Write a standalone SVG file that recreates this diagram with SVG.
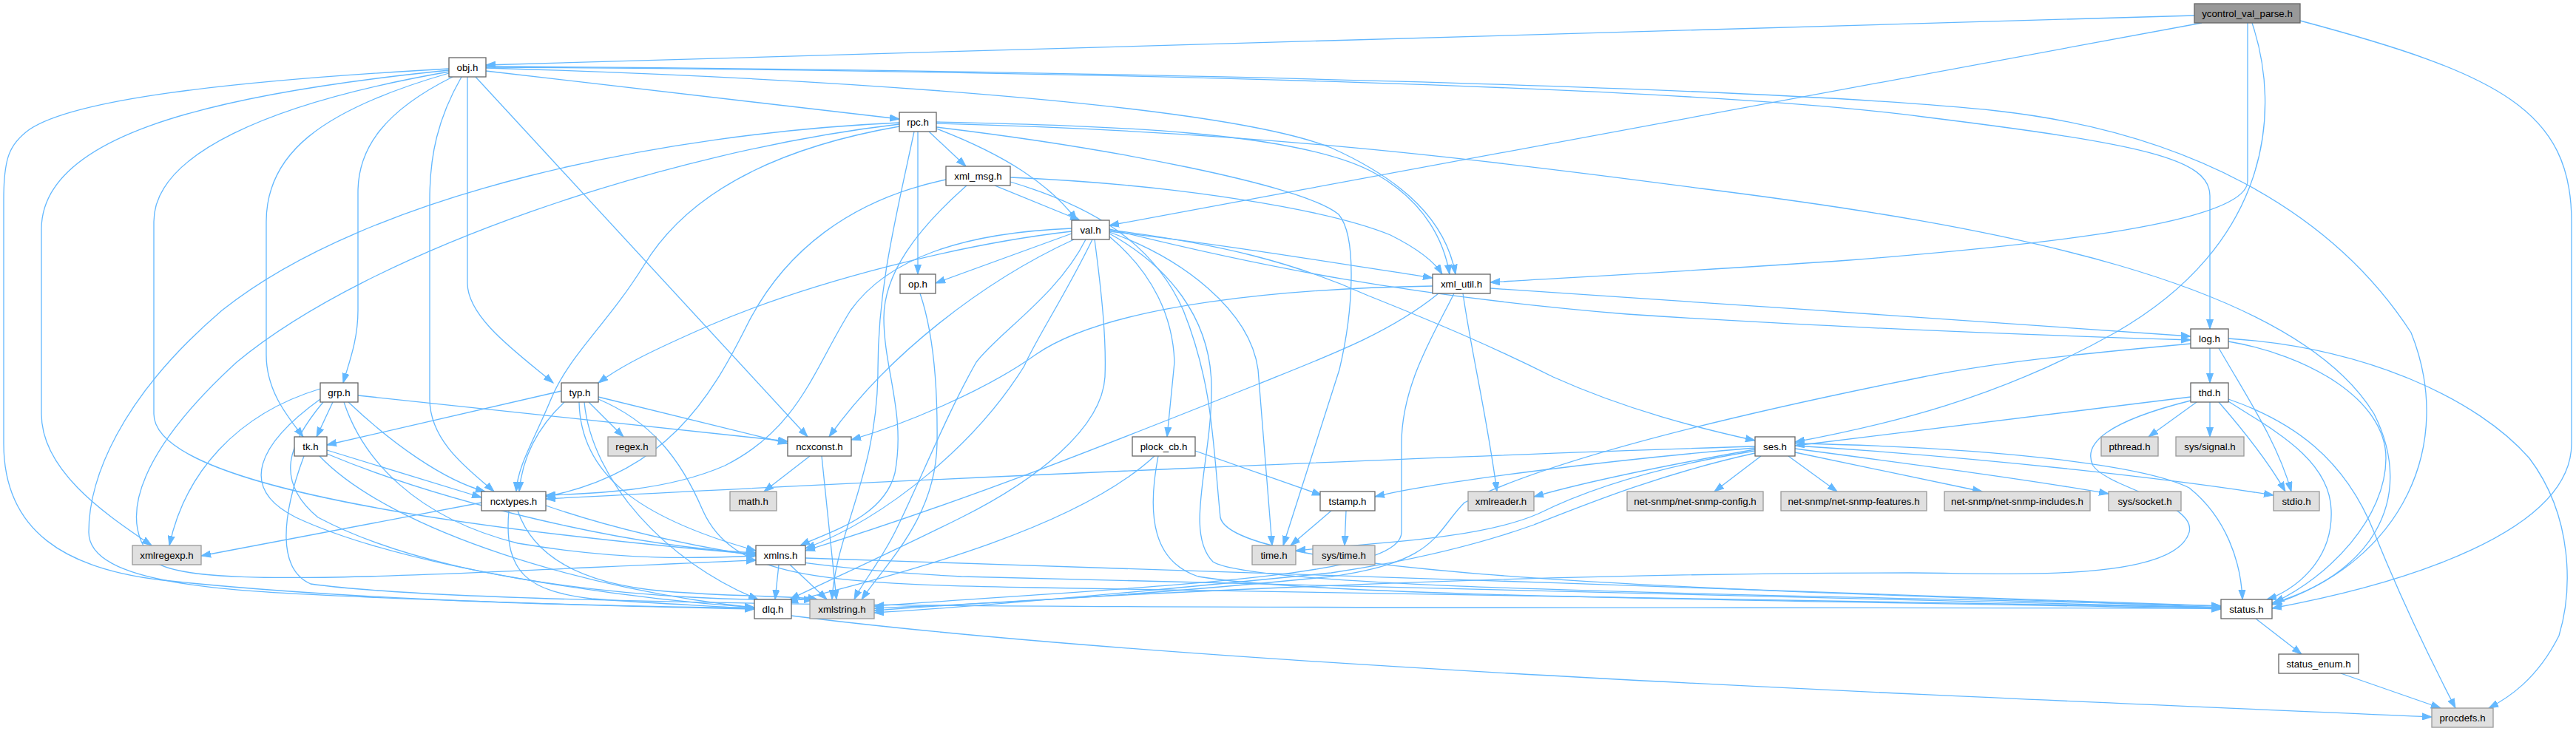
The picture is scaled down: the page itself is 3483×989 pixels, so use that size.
<svg xmlns="http://www.w3.org/2000/svg" width="3483" height="989" viewBox="0 0 3483 989">
<style>
.n rect{fill:#ffffff;stroke:#666666;stroke-width:1.3}
.x rect{fill:#e0e0e0;stroke:#999999;stroke-width:1.3}
.r rect{fill:#999999;stroke:#666666;stroke-width:1.3}
text{font-family:"Liberation Sans",Arial,Helvetica,sans-serif;font-size:13.3px;text-anchor:middle;fill:#000000}
#edges path{fill:none;stroke:#63b8ff;stroke-width:1.3;marker-end:url(#a)}
</style>
<defs>
<marker id="a" markerWidth="14" markerHeight="10" refX="13" refY="5" orient="auto" markerUnits="userSpaceOnUse">
<path d="M0,0.5 L13,5 L0,9.5 z" fill="#63b8ff" stroke="#63b8ff" stroke-width="1"/>
</marker>
</defs>
<rect width="3483" height="989" fill="#ffffff"/>
<g id="edges">
<path d="M2967,21 L657,88"/>
<path d="M2977,31 L1500,305"/>
<path d="M3039,31 L3039,245 C3039,300 2780,330 2500,352 C2300,366 2150,374 2015,382"/>
<path d="M3045,31 C3085,150 3070,330 2860,450 C2700,540 2550,575 2427,598"/>
<path d="M3110,28 C3380,100 3477,150 3477,300 L3477,600 C3477,720 3250,790 3072,823"/>
<path d="M657,96 L1216,161"/>
<path d="M657,92 C1100,105 1650,140 1800,200 C1900,245 1955,300 1968,371"/>
<path d="M657,91 C1500,96 2300,118 2600,158 C2900,195 2988,215 2988,265 L2988,445"/>
<path d="M657,90 C1500,95 2400,118 2700,150 C2950,178 3150,280 3260,450 C3320,600 3250,760 3072,818"/>
<path d="M607,93 C300,110 100,135 40,175 C12,195 5,215 5,270 L5,600 C5,720 90,770 220,785 C500,815 850,820 1020,824"/>
<path d="M607,95 C260,130 56,190 56,310 L56,560 C56,640 150,700 205,738"/>
<path d="M607,97 C360,140 208,210 208,300 L208,560 C208,650 560,710 1022,750"/>
<path d="M607,99 C430,150 360,210 360,300 L360,480 C360,530 390,565 410,591"/>
<path d="M612,104 C520,150 484,200 484,260 L484,420 C484,460 472,490 464,518"/>
<path d="M624,104 C592,160 581,210 581,270 L581,540 C581,600 640,640 668,665"/>
<path d="M632,104 L632,383 C632,430 700,478 748,518"/>
<path d="M643,104 L1092,591"/>
<path d="M1256,178 L1306,225"/>
<path d="M1266,174 C1360,210 1420,250 1456,298"/>
<path d="M1241,178 L1241,371"/>
<path d="M1266,165 C1500,170 1760,178 1860,235 C1930,275 1953,330 1960,371"/>
<path d="M1266,167 C1700,178 2000,215 2300,255 C2700,305 3100,380 3210,560 C3270,680 3200,780 3072,816"/>
<path d="M1266,172 C1500,200 1760,250 1810,290 C1835,320 1830,420 1811,500 L1735,738"/>
<path d="M1216,171 C1050,200 930,260 870,360 C820,440 770,480 745,540 C720,600 700,630 698,665"/>
<path d="M1216,166 C900,180 500,260 300,420 C160,540 120,650 120,720 C120,790 300,800 500,808 C800,820 950,822 1020,822"/>
<path d="M1216,168 C900,205 500,340 320,490 C200,600 150,700 210,760 C260,800 600,775 1022,758"/>
<path d="M1236,178 C1210,300 1187,390 1187,500 C1187,640 1130,720 1125,811"/>
<path d="M1345,251 L1460,298"/>
<path d="M1366,240 C1600,250 1800,285 1880,318 C1920,338 1940,355 1950,371"/>
<path d="M1279,243 C1150,270 1060,340 1010,440 C960,540 900,640 738,672"/>
<path d="M1307,251 C1240,310 1195,370 1195,430 C1195,500 1225,560 1210,640 C1195,700 1120,720 1082,738"/>
<path d="M1366,246 C1480,280 1560,330 1600,420 C1640,520 1640,600 1650,700 C1670,790 2500,800 3003,822"/>
<path d="M1449,313 C1300,330 1100,380 960,440 C880,475 840,495 809,518"/>
<path d="M1449,316 L1265,383"/>
<path d="M1449,309 C1300,315 1200,350 1150,420 C1100,500 1080,580 980,630 C900,665 800,668 738,670"/>
<path d="M1452,324 C1330,380 1200,480 1121,591"/>
<path d="M1468,324 C1430,400 1350,450 1320,490 C1280,560 1240,660 1210,720 C1190,760 1165,790 1155,811"/>
<path d="M1477,324 C1440,400 1400,460 1385,495 C1320,600 1200,700 1089,742"/>
<path d="M1480,324 C1490,400 1496,460 1494,510 C1490,580 1400,650 1300,700 C1200,750 1110,790 1068,811"/>
<path d="M1500,320 C1560,370 1586,430 1588,490 L1578,591"/>
<path d="M1500,316 C1580,360 1636,430 1638,520 C1640,620 1600,720 1640,760 C1700,800 2500,805 3003,820"/>
<path d="M1500,314 C1600,350 1690,420 1701,500 L1720,738"/>
<path d="M1500,313 C1650,330 1800,355 1937,376"/>
<path d="M1500,311 C1650,330 1750,355 1850,400 C1950,440 2020,470 2100,510 C2200,555 2300,580 2373,596"/>
<path d="M1500,310 C1700,360 1900,400 2200,425 C2500,445 2800,455 2962,460"/>
<path d="M2015,390 C2300,410 2700,435 2962,455"/>
<path d="M1937,387 C1750,390 1500,410 1400,480 C1330,530 1220,575 1151,595"/>
<path d="M1978,397 C1990,480 2010,560 2024,665"/>
<path d="M1945,397 C1880,450 1800,480 1700,520 C1500,600 1300,680 1089,745"/>
<path d="M1966,397 C1940,450 1895,520 1895,600 L1895,720 C1895,780 1600,790 1182,820"/>
<path d="M2988,471 L2988,518"/>
<path d="M2962,465 C2800,480 2700,490 2600,510 C2350,560 2100,620 1980,680 C1940,720 1945,760 1800,780 C1500,810 1300,818 1182,823"/>
<path d="M3000,471 C3040,540 3080,600 3098,665"/>
<path d="M3013,462 C3120,480 3226,540 3226,620 C3226,700 3150,780 3075,815"/>
<path d="M3013,458 C3200,470 3350,540 3420,620 C3480,700 3478,800 3460,860 C3430,920 3390,945 3365,958"/>
<path d="M2962,537 L2427,603"/>
<path d="M2970,544 L2905,591"/>
<path d="M2988,544 L2988,591"/>
<path d="M3000,544 C3040,590 3070,630 3090,665"/>
<path d="M3013,543 C3070,580 3150,620 3152,690 C3155,760 3100,800 3065,811"/>
<path d="M3013,540 C3100,570 3170,620 3210,720 C3250,820 3290,900 3320,958"/>
<path d="M2962,542 C2850,570 2815,600 2830,630 C2850,660 2970,680 2960,720 C2940,790 2700,775 2583,775 C2000,775 1400,810 1182,826"/>
<path d="M2373,604 C2000,615 1200,650 738,675"/>
<path d="M2373,606 C2200,620 1950,650 1859,672"/>
<path d="M2373,608 C2250,630 2150,650 2074,672"/>
<path d="M2373,610 C2250,630 2150,660 2080,695 C2000,730 1850,735 1752,745"/>
<path d="M2373,613 C2250,640 2150,680 2074,710 C1990,740 1900,760 1800,775 C1500,805 1300,822 1182,829"/>
<path d="M2381,617 L2318,665"/>
<path d="M2418,617 L2484,665"/>
<path d="M2427,612 L2680,665"/>
<path d="M2427,607 C2600,630 2750,650 2851,668"/>
<path d="M2427,603 C2700,620 2950,650 3074,670"/>
<path d="M2427,600 C2700,605 2900,630 2960,660 C3010,700 3030,760 3032,811"/>
<path d="M1616,610 L1787,670"/>
<path d="M1561,617 C1450,720 1200,780 1066,815"/>
<path d="M1566,617 C1550,700 1560,760 1620,780 C1800,810 2500,812 3003,824"/>
<path d="M1800,691 L1745,738"/>
<path d="M1820,691 L1818,738"/>
<path d="M651,680 L272,752"/>
<path d="M688,691 C680,780 720,800 800,810 C900,818 980,820 1020,824"/>
<path d="M700,691 C720,750 780,790 900,800 C1000,808 1080,806 1105,811"/>
<path d="M738,684 C900,740 1100,770 1300,780 C2000,800 2700,815 3003,822"/>
<path d="M1053,764 L1048,811"/>
<path d="M1068,764 L1118,811"/>
<path d="M1089,755 C1500,770 2500,800 3003,820"/>
<path d="M1070,833 C1600,900 2600,940 3288,970"/>
<path d="M3050,837 L3112,885"/>
<path d="M3165,911 L3300,958"/>
<path d="M1095,617 L1033,665"/>
<path d="M1111,617 L1131,811"/>
<path d="M1244,397 C1262,450 1268,520 1267,600 C1265,700 1200,760 1165,811"/>
<path d="M759,529 L442,602"/>
<path d="M763,544 C725,580 706,620 702,665"/>
<path d="M796,544 L843,591"/>
<path d="M809,537 L1065,600"/>
<path d="M783,544 C785,640 860,700 1022,745"/>
<path d="M790,544 C800,650 900,760 1025,811"/>
<path d="M809,540 C880,570 920,620 950,690 C990,780 1100,790 1400,795 C2200,808 2700,815 3003,822"/>
<path d="M450,544 L428,591"/>
<path d="M433,526 C320,560 250,640 229,738"/>
<path d="M471,544 C530,600 600,650 656,665"/>
<path d="M484,535 L1065,597"/>
<path d="M433,540 C350,600 320,660 400,700 C550,770 850,810 1020,822"/>
<path d="M437,544 C390,600 370,650 430,700 C600,790 900,815 1100,811"/>
<path d="M465,544 C490,620 560,700 700,735 C850,760 950,755 1022,752"/>
<path d="M442,609 L651,673"/>
<path d="M442,614 C600,680 850,740 1022,748"/>
<path d="M432,617 C530,720 800,800 1020,822"/>
<path d="M411,617 C380,700 375,770 420,790 C700,830 2000,820 3003,823"/>
</g>
<g id="ycontrol_val_parse" class="r"><rect x="2967" y="5" width="143" height="26"/><text x="3038.5" y="22.6">ycontrol_val_parse.h</text></g>
<g id="obj" class="n"><rect x="607" y="78" width="50" height="26"/><text x="632" y="95.6">obj.h</text></g>
<g id="rpc" class="n"><rect x="1216" y="152" width="50" height="26"/><text x="1241" y="169.6">rpc.h</text></g>
<g id="xml_msg" class="n"><rect x="1279" y="225" width="87" height="26"/><text x="1322.5" y="242.6">xml_msg.h</text></g>
<g id="val" class="n"><rect x="1449" y="298" width="51" height="26"/><text x="1474.5" y="315.6">val.h</text></g>
<g id="op" class="n"><rect x="1217" y="371" width="48" height="26"/><text x="1241" y="388.6">op.h</text></g>
<g id="xml_util" class="n"><rect x="1937" y="371" width="78" height="26"/><text x="1976" y="388.6">xml_util.h</text></g>
<g id="log" class="n"><rect x="2962" y="445" width="51" height="26"/><text x="2987.5" y="462.6">log.h</text></g>
<g id="grp" class="n"><rect x="433" y="518" width="51" height="26"/><text x="458.5" y="535.6">grp.h</text></g>
<g id="typ" class="n"><rect x="759" y="518" width="50" height="26"/><text x="784" y="535.6">typ.h</text></g>
<g id="thd" class="n"><rect x="2962" y="518" width="51" height="26"/><text x="2987.5" y="535.6">thd.h</text></g>
<g id="tk" class="n"><rect x="398" y="591" width="44" height="26"/><text x="420" y="608.6">tk.h</text></g>
<g id="regex" class="x"><rect x="822" y="591" width="65" height="26"/><text x="854.5" y="608.6">regex.h</text></g>
<g id="ncxconst" class="n"><rect x="1065" y="591" width="86" height="26"/><text x="1108" y="608.6">ncxconst.h</text></g>
<g id="plock_cb" class="n"><rect x="1531" y="591" width="85" height="26"/><text x="1573.5" y="608.6">plock_cb.h</text></g>
<g id="ses" class="n"><rect x="2373" y="591" width="54" height="26"/><text x="2400" y="608.6">ses.h</text></g>
<g id="pthread" class="x"><rect x="2841" y="591" width="77" height="26"/><text x="2879.5" y="608.6">pthread.h</text></g>
<g id="sys_signal" class="x"><rect x="2942" y="591" width="92" height="26"/><text x="2988" y="608.6">sys/signal.h</text></g>
<g id="ncxtypes" class="n"><rect x="651" y="665" width="87" height="26"/><text x="694.5" y="682.6">ncxtypes.h</text></g>
<g id="math" class="x"><rect x="987" y="665" width="63" height="26"/><text x="1018.5" y="682.6">math.h</text></g>
<g id="tstamp" class="n"><rect x="1785" y="665" width="74" height="26"/><text x="1822" y="682.6">tstamp.h</text></g>
<g id="xmlreader" class="x"><rect x="1985" y="665" width="89" height="26"/><text x="2029.5" y="682.6">xmlreader.h</text></g>
<g id="net_snmp_config" class="x"><rect x="2200" y="665" width="184" height="26"/><text x="2292" y="682.6">net-snmp/net-snmp-config.h</text></g>
<g id="net_snmp_features" class="x"><rect x="2408" y="665" width="197" height="26"/><text x="2506.5" y="682.6">net-snmp/net-snmp-features.h</text></g>
<g id="net_snmp_includes" class="x"><rect x="2629" y="665" width="197" height="26"/><text x="2727.5" y="682.6">net-snmp/net-snmp-includes.h</text></g>
<g id="sys_socket" class="x"><rect x="2851" y="665" width="98" height="26"/><text x="2900" y="682.6">sys/socket.h</text></g>
<g id="stdio" class="x"><rect x="3074" y="665" width="62" height="26"/><text x="3105" y="682.6">stdio.h</text></g>
<g id="xmlregexp" class="x"><rect x="179" y="738" width="93" height="26"/><text x="225.5" y="755.6">xmlregexp.h</text></g>
<g id="xmlns" class="n"><rect x="1022" y="738" width="67" height="26"/><text x="1055.5" y="755.6">xmlns.h</text></g>
<g id="time" class="x"><rect x="1693" y="738" width="59" height="26"/><text x="1722.5" y="755.6">time.h</text></g>
<g id="sys_time" class="x"><rect x="1775" y="738" width="84" height="26"/><text x="1817" y="755.6">sys/time.h</text></g>
<g id="dlq" class="n"><rect x="1020" y="811" width="50" height="26"/><text x="1045" y="828.6">dlq.h</text></g>
<g id="xmlstring" class="x"><rect x="1095" y="811" width="87" height="26"/><text x="1138.5" y="828.6">xmlstring.h</text></g>
<g id="status" class="n"><rect x="3003" y="811" width="69" height="26"/><text x="3037.5" y="828.6">status.h</text></g>
<g id="status_enum" class="n"><rect x="3081" y="885" width="108" height="26"/><text x="3135" y="902.6">status_enum.h</text></g>
<g id="procdefs" class="x"><rect x="3288" y="958" width="83" height="26"/><text x="3329.5" y="975.6">procdefs.h</text></g>
</svg>
